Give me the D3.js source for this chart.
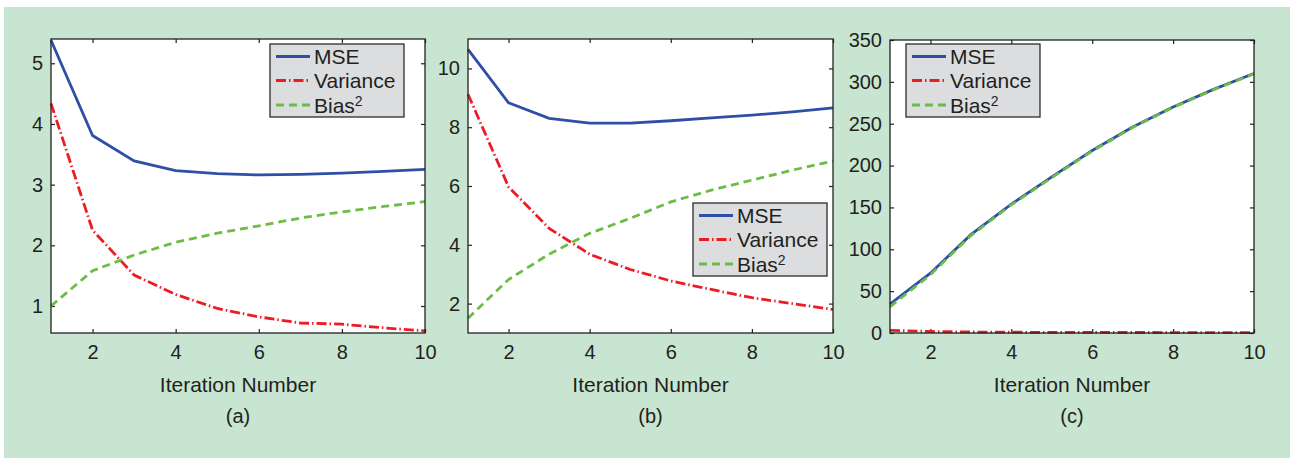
<!DOCTYPE html>
<html>
<head>
<meta charset="utf-8">
<script src="https://cdn.jsdelivr.net/npm/d3@7"></script>
<style>
  body { margin: 0; background: #fff; }
  text { font-family: "Liberation Sans", Arial, Helvetica, sans-serif; fill: #231f20; }
</style>
</head>
<body>
<svg id="chart" width="1298" height="459"></svg>
<script>
// iteration numbers shared by all three panels
const iterations = [1, 2, 3, 4, 5, 6, 7, 8, 9, 10];

// panel (a)
const mseA = [5.38, 3.81, 3.39, 3.23, 3.18, 3.16, 3.17, 3.19, 3.22, 3.25];
const varA = [4.34, 2.25, 1.51, 1.19, 0.96, 0.82, 0.72, 0.70, 0.64, 0.59];
const biasA = [1.00, 1.58, 1.84, 2.05, 2.20, 2.32, 2.45, 2.55, 2.64, 2.72];

// panel (b)
const mseB = [10.65, 8.83, 8.30, 8.14, 8.14, 8.22, 8.32, 8.41, 8.52, 8.66];
const varB = [9.12, 5.97, 4.56, 3.68, 3.16, 2.77, 2.48, 2.20, 2.00, 1.80];
const biasB = [1.50, 2.82, 3.68, 4.39, 4.90, 5.46, 5.86, 6.20, 6.54, 6.85];

// panel (c)
const mseC = [34.5, 71.5, 117.5, 154, 186.5, 218, 246, 270, 291, 310];
const varC = [3.2, 1.8, 1.2, 0.9, 0.8, 0.7, 0.6, 0.55, 0.5, 0.45];
const biasC = [31.3, 69.7, 116.3, 153.1, 185.7, 217.3, 245.4, 269.5, 290.5, 309.6];

// tick labels
const xTicks = [2, 4, 6, 8, 10];
const yTicksA = [1, 2, 3, 4, 5];
const yTicksB = [2, 4, 6, 8, 10];
const yTicksC = [0, 50, 100, 150, 200, 250, 300, 350];

const svg = d3.select('#chart');

// green page background
svg.append('rect')
    .attr('x', 4).attr('y', 7)
    .attr('width', 1286).attr('height', 451)
    .attr('fill', '#c7e5d0');

const colors = {mse: '#2f4fa6', variance: '#ed1c24', bias: '#6cbd45'};
const fmt = d3.format('~g');

function drawPanel(cfg) {
    const g = svg.append('g');
    const x = d3.scaleLinear().domain([1, 10]).range([cfg.left, cfg.right]);
    const y = d3.scaleLinear().domain(cfg.yDomain).range([cfg.bottom, cfg.top]);

    // plot area
    g.append('rect')
        .attr('x', cfg.left).attr('y', cfg.top)
        .attr('width', cfg.right - cfg.left).attr('height', cfg.bottom - cfg.top)
        .attr('fill', '#fff');

    // inward ticks on all four sides (matlab box style)
    const tl = 4;
    g.append('g')
        .attr('transform', `translate(0,${cfg.bottom})`)
        .call(d3.axisBottom(x).tickValues(xTicks).tickFormat(fmt).tickSizeInner(-tl).tickSizeOuter(0).tickPadding(12))
        .call(a => a.select('.domain').remove())
        .call(a => a.selectAll('text').style('font-size', '20px'));
    g.append('g')
        .attr('transform', `translate(0,${cfg.top})`)
        .call(d3.axisTop(x).tickValues(xTicks).tickSizeInner(-tl).tickSizeOuter(0).tickFormat(''))
        .call(a => a.select('.domain').remove());
    g.append('g')
        .attr('transform', `translate(${cfg.left},0)`)
        .call(d3.axisLeft(y).tickValues(cfg.yTicks).tickFormat(fmt).tickSizeInner(-tl).tickSizeOuter(0).tickPadding(8))
        .call(a => a.select('.domain').remove())
        .call(a => a.selectAll('text').style('font-size', '20px'));
    g.append('g')
        .attr('transform', `translate(${cfg.right},0)`)
        .call(d3.axisRight(y).tickValues(cfg.yTicks).tickSizeInner(-tl).tickSizeOuter(0).tickFormat(''))
        .call(a => a.select('.domain').remove());
    g.selectAll('.tick line').attr('stroke', '#231f20').attr('stroke-width', 1.2);

    const series = [
        {vals: cfg.variance, color: colors.variance, dash: '10,3,1.5,3'},
        {vals: cfg.bias, color: colors.bias, dash: '8,5'},
        {vals: cfg.mse, color: colors.mse, dash: null}
    ];
    if (cfg.mseUnder) series.push(series.splice(1, 1)[0]);

    const line = d3.line().x((d, i) => x(iterations[i])).y(d => y(d));
    series.forEach(s => {
        g.append('path')
            .datum(s.vals)
            .attr('d', line)
            .attr('fill', 'none')
            .attr('stroke', s.color)
            .attr('stroke-width', 2.8)
            .attr('stroke-dasharray', s.dash);
    });

    // box
    g.append('rect')
        .attr('x', cfg.left).attr('y', cfg.top)
        .attr('width', cfg.right - cfg.left).attr('height', cfg.bottom - cfg.top)
        .attr('fill', 'none')
        .attr('stroke', '#231f20')
        .attr('stroke-width', 1.3);

    // legend
    const lg = g.append('g').attr('transform', `translate(${cfg.legend[0]},${cfg.legend[1]})`);
    lg.append('rect')
        .attr('width', 134).attr('height', 73)
        .attr('fill', '#dcdddf')
        .attr('stroke', '#2b2b2b')
        .attr('stroke-width', 1.3);
    const entries = [
        {label: 'MSE', color: colors.mse, dash: null},
        {label: 'Variance', color: colors.variance, dash: '10,3,1.5,3'},
        {label: 'Bias', color: colors.bias, dash: '8,5', sup: '2'}
    ];
    const rowY = [12.5, 36.5, 61];
    entries.forEach((e, i) => {
        const yy = rowY[i];
        lg.append('line')
            .attr('x1', 6).attr('x2', 40)
            .attr('y1', yy).attr('y2', yy)
            .attr('stroke', e.color)
            .attr('stroke-width', 2.8)
            .attr('stroke-dasharray', e.dash);
        const t = lg.append('text')
            .attr('x', 44).attr('y', yy + 7.5)
            .style('font-size', '21px')
            .text(e.label);
        if (e.sup) {
            t.append('tspan')
                .attr('dy', -7)
                .style('font-size', '14px')
                .text(e.sup);
        }
    });

    // labels
    const cx = (cfg.left + cfg.right) / 2;
    g.append('text')
        .attr('x', cx).attr('y', 392)
        .attr('text-anchor', 'middle')
        .style('font-size', '21px')
        .text('Iteration Number');
    g.append('text')
        .attr('x', cx).attr('y', 423)
        .attr('text-anchor', 'middle')
        .style('font-size', '20px')
        .text(cfg.caption);
}

drawPanel({
    left: 51, right: 425, top: 39, bottom: 333,
    yDomain: [0.555, 5.4], yTicks: yTicksA,
    mse: mseA, variance: varA, bias: biasA,
    legend: [270, 44], caption: '(a)'
});

drawPanel({
    left: 468, right: 833, top: 39, bottom: 333,
    yDomain: [1, 11], yTicks: yTicksB,
    mse: mseB, variance: varB, bias: biasB,
    legend: [693, 203], caption: '(b)'
});

drawPanel({
    left: 890, right: 1254, top: 40, bottom: 333,
    yDomain: [0, 350], yTicks: yTicksC,
    mse: mseC, variance: varC, bias: biasC,
    legend: [906, 44], caption: '(c)', mseUnder: true
});
</script>
</body>
</html>
